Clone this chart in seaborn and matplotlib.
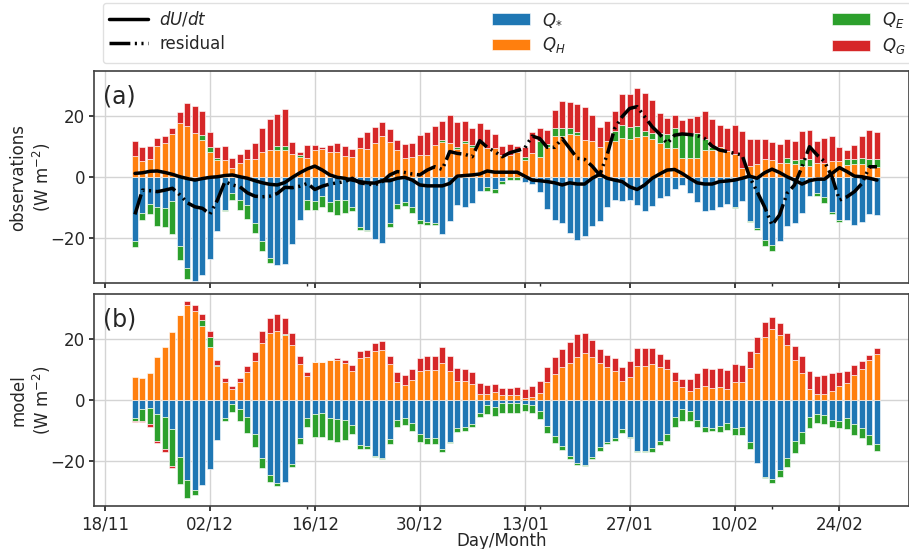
import numpy as np
import pandas as pd
import matplotlib
matplotlib.use("Agg")
import matplotlib.pyplot as plt
import matplotlib.dates as mdates
import seaborn as sns

# daily dates of the bars (22/11 .. 01/03)
dates = pd.date_range("2018-11-22", "2019-03-01", freq="D")

tick_dates = ["2018-11-18", "2018-12-02", "2018-12-16", "2018-12-30",
              "2019-01-13", "2019-01-27", "2019-02-10", "2019-02-24"]
tick_labels = ["18/11", "02/12", "16/12", "30/12", "13/01", "27/01", "10/02", "24/02"]
minor_dates = ["2018-12-15", "2019-01-15", "2019-02-15"]

# observations (W m-2)
obs_qstar = [
    -21.1, -11.8, -8.9, -9.9, -10.2, -8.0, -22.6, -30.0, -34.2, -32.4,
    -26.9, -17.7, -11.0, -5.4, -7.4, -9.2, -15.3, -21.1, -26.7, -28.9,
    -28.5, -22.0, -14.0, -7.4, -8.0, -6.3, -8.1, -7.6, -7.6, -9.8,
    -16.6, -17.3, -20.5, -21.6, -15.3, -8.9, -8.1, -9.8, -14.0, -14.9,
    -15.3, -18.8, -14.4, -9.2, -9.9, -8.7, -4.7, -3.4, -4.1, -1.3,
    -0.1, -0.1, -1.5, -2.3, -4.8, -10.4, -14.2, -15.3, -18.4, -20.8,
    -19.3, -16.2, -14.4, -10.0, -7.6, -7.9, -7.6, -9.2, -11.2, -9.6,
    -7.0, -6.3, -4.0, -2.6, -5.4, -8.1, -11.2, -10.9, -9.8, -8.9,
    -10.0, -7.8, -14.4, -16.9, -20.8, -22.4, -21.0, -16.2, -15.3, -11.8,
    -6.2, -5.4, -6.7, -11.5, -14.2, -14.0, -15.8, -14.7, -12.2, -12.6,
]
obs_qh = [
    6.9, 5.4, 6.0, 10.1, 11.2, 14.2, 17.7, 16.8, 14.6, 12.2,
    8.2, 5.7, 5.6, 3.1, 4.7, 5.9, 5.9, 8.2, 8.8, 8.9,
    8.9, 7.5, 6.5, 6.4, 8.9, 9.1, 8.1, 8.2, 7.1, 6.6,
    9.5, 9.3, 11.1, 13.5, 11.4, 8.9, 6.4, 6.7, 7.4, 7.4,
    10.4, 11.6, 11.3, 9.1, 11.1, 10.0, 11.9, 9.6, 9.7, 7.4,
    7.4, 8.4, 5.7, 7.8, 6.7, 9.8, 13.5, 13.5, 14.2, 13.8,
    12.1, 11.9, 9.8, 11.9, 11.9, 13.0, 12.5, 13.1, 13.5, 12.5,
    11.1, 9.5, 9.5, 6.2, 6.2, 6.2, 8.9, 8.9, 9.8, 8.7,
    7.6, 3.0, 3.6, 4.3, 5.8, 5.6, 4.5, 4.5, 4.3, 3.6,
    3.6, 4.5, 4.5, 5.3, 5.3, 4.0, 4.2, 4.2, 3.2, 3.2,
]
obs_qe = [
    -1.9, -2.4, -3.2, -6.2, -6.4, -10.8, -4.8, -3.6, 0.0, 1.5,
    1.8, 0.7, -0.3, -2.0, -3.3, -4.6, -3.0, -3.2, -1.5, 1.4,
    1.4, 0.0, 0.8, -3.4, -3.0, -3.7, -3.5, -4.9, -4.1, -1.3,
    -0.7, -0.5, 0.0, 0.0, -1.0, -1.5, -1.6, -2.0, -1.5, -0.9,
    -0.5, 0.5, 0.0, 0.7, 0.7, 0.5, 0.0, -1.1, -1.0, -1.0,
    -1.0, -0.9, 0.8, 0.0, 5.2, 1.0, 2.5, 2.5, 1.9, 1.1,
    0.0, 0.0, 0.0, 0.0, 3.3, 4.0, 4.1, 3.8, 1.6, 1.9,
    3.3, 4.7, 6.5, 8.2, 8.2, 8.2, 3.8, 0.9, 0.0, 0.0,
    -0.3, 0.0, -0.4, -0.5, -1.9, -2.0, 0.0, 1.9, 1.3, 2.2,
    2.2, -0.8, -2.0, -0.7, -0.7, 1.9, 1.9, 2.1, 2.9, 2.9,
]
obs_qg = [
    4.9, 4.5, 4.1, 2.7, 2.3, 1.9, 3.8, 7.5, 8.8, 8.0,
    4.9, 3.6, 4.6, 3.3, 2.9, 3.5, 5.3, 7.8, 10.2, 10.5,
    12.2, 4.0, 0.9, 4.0, 1.5, 0.9, 2.3, 2.9, 3.1, 2.7,
    3.7, 5.7, 5.3, 4.6, 4.3, 3.3, 4.5, 4.6, 6.3, 7.5,
    6.4, 6.3, 9.3, 8.2, 6.6, 5.6, 5.8, 6.2, 4.5, 2.9,
    3.4, 1.8, 3.5, 7.2, 4.4, 4.6, 6.0, 9.1, 8.6, 9.3,
    11.0, 8.4, 6.8, 6.7, 6.6, 10.3, 10.7, 12.5, 12.6, 11.0,
    6.6, 5.2, 4.5, 4.4, 5.2, 5.7, 9.0, 9.2, 7.4, 7.5,
    9.7, 12.3, 8.9, 8.2, 6.7, 5.8, 6.4, 6.3, 6.3, 9.5,
    9.7, 7.3, 8.4, 8.2, 4.5, 3.1, 4.5, 7.1, 9.3, 8.8,
]
obs_dudt = [
    1.2, 1.4, 1.9, 2.0, 1.5, 0.9, 0.1, -0.5, -1.0, -0.5,
    -0.1, 0.1, 0.5, 0.7, 0.1, -0.4, -1.2, -1.9, -2.4, -2.6,
    -1.8, -0.1, 1.4, 2.7, 3.6, 2.3, 0.7, -0.1, -0.4, -1.0,
    -1.5, -1.9, -2.0, -1.2, -1.2, -0.4, -0.1, -1.0, -2.6, -2.9,
    -2.9, -2.9, -2.1, 0.3, 0.5, 0.7, 1.0, 2.0, 1.6, 1.6,
    1.6, 1.6, 0.3, -1.0, -1.2, -1.5, -1.9, -2.6, -1.9, -2.3,
    -2.3, -0.4, 0.9, -0.4, -1.0, -1.5, -3.2, -4.1, -2.6, -0.4,
    1.0, 2.3, 2.5, 1.2, -0.4, -1.9, -2.3, -2.3, -1.5, -1.3,
    -1.0, -0.4, 0.3, -0.4, 1.4, 2.6, 1.5, 0.1, -1.0, -2.3,
    -1.2, -0.7, -0.7, 1.2, 3.1, 1.8, 0.3, 0.1, -0.4, -1.0,
]
obs_resid = [
    -12.3, -4.3, -4.5, -4.8, -4.3, -3.7, -5.9, -8.5, -9.8, -10.3,
    -12.2, -7.6, -1.5, -2.6, -3.2, -5.2, -6.3, -6.5, -6.3, -5.4,
    -3.4, -3.5, -3.0, -2.1, -4.1, -3.0, -2.3, -1.9, -1.5, -0.4,
    -1.9, -2.3, -2.6, -1.5, 0.7, 1.8, 1.5, 1.0, 0.7, 2.3,
    3.4, 2.5, 8.4, 7.8, 7.5, 6.7, 12.0, 9.8, 8.4, 6.7,
    8.0, 8.7, 9.5, 13.5, 12.7, 9.8, 9.8, 12.7, 9.5, 6.2,
    5.8, 3.6, 0.7, 7.3, 16.0, 19.9, 22.6, 23.2, 19.9, 16.6,
    14.2, 11.1, 13.8, 14.2, 14.0, 13.7, 12.7, 10.2, 8.9, 8.4,
    7.8, 7.3, 0.1, -4.8, -9.8, -15.8, -12.5, -5.4, -2.6, 3.4,
    10.0, 7.3, 5.1, 0.1, -7.6, -6.5, -4.8, -2.1, 3.4, 3.4,
]

# model (W m-2)
mod_qstar = [
    -5.8, -3.0, -2.5, -4.5, -5.5, -9.7, -18.9, -26.4, -29.7, -28.0,
    -22.6, -13.2, -5.8, -1.4, -3.1, -5.7, -11.2, -19.2, -24.7, -27.3,
    -26.9, -21.1, -12.4, -5.8, -4.6, -4.4, -6.0, -6.4, -6.6, -8.2,
    -14.8, -15.2, -18.5, -19.0, -13.0, -6.6, -5.8, -7.5, -11.2, -12.4,
    -12.6, -16.3, -13.7, -9.3, -9.0, -7.9, -4.4, -1.6, -2.4, -1.1,
    -0.9, -1.1, -1.4, -1.6, -3.6, -8.6, -11.9, -15.2, -18.5, -20.9,
    -21.4, -18.7, -15.4, -13.7, -12.6, -9.7, -12.1, -16.8, -16.8, -15.9,
    -13.4, -11.3, -5.7, -3.1, -3.8, -6.6, -8.8, -9.3, -8.5, -7.5,
    -9.3, -9.0, -13.9, -20.9, -25.3, -26.2, -23.1, -19.0, -13.5, -10.7,
    -5.7, -4.6, -4.9, -6.6, -7.0, -5.8, -7.9, -9.1, -11.6, -14.5,
]
mod_qh = [
    7.4, 7.1, 8.9, 14.3, 17.3, 22.4, 28.0, 31.4, 29.3, 24.2,
    17.6, 11.2, 6.0, 3.7, 5.9, 9.2, 12.9, 18.9, 22.2, 22.6,
    21.3, 18.0, 11.9, 7.9, 12.4, 12.4, 13.0, 13.0, 12.3, 9.6,
    13.8, 14.0, 16.2, 16.5, 11.9, 6.0, 4.9, 6.6, 9.6, 9.9,
    9.9, 12.1, 9.6, 6.4, 6.4, 5.1, 2.0, 1.9, 2.5, 1.6,
    1.6, 1.6, 0.8, 1.1, 2.2, 6.0, 8.5, 10.7, 12.3, 14.3,
    15.4, 14.0, 12.3, 10.7, 9.6, 6.4, 7.5, 11.2, 11.2, 11.9,
    10.8, 10.1, 6.3, 4.2, 3.1, 4.1, 4.6, 4.0, 4.3, 3.7,
    5.9, 5.9, 10.5, 15.4, 20.7, 23.3, 21.4, 18.0, 13.3, 9.0,
    3.6, 2.0, 1.9, 3.1, 4.6, 5.7, 8.1, 10.1, 13.1, 15.2,
]
mod_qe = [
    -1.0, -4.0, -5.4, -8.9, -10.8, -12.1, -8.9, -5.8, -1.5, 2.2,
    3.3, 0.3, -1.1, -2.7, -4.0, -5.3, -4.2, -3.3, -2.3, -0.9,
    0.3, -0.9, -2.1, -3.2, -7.5, -7.7, -7.1, -7.3, -6.6, -3.1,
    -1.4, -1.1, -0.4, -0.3, -1.5, -2.4, -2.4, -2.7, -2.5, -2.1,
    -1.9, -0.9, -0.5, -1.1, -1.1, -1.1, -1.1, -3.0, -2.9, -3.1,
    -3.3, -3.1, -2.1, -2.7, -2.6, -2.2, -2.2, -1.3, -0.8, -0.5,
    -0.5, -0.9, -1.3, -0.9, -0.9, -1.1, -0.3, -0.2, -0.2, -1.1,
    -1.6, -2.2, -3.3, -3.7, -3.0, -2.2, -1.6, -0.8, -2.0, -2.4,
    -2.4, -2.5, -2.2, 0.0, -0.3, -1.1, -2.2, -3.0, -4.1, -3.8,
    -3.4, -3.1, -3.0, -2.2, -2.2, -3.7, -3.7, -3.5, -3.2, -2.3,
]
mod_qg = [
    -0.5, -0.2, -0.9, -0.8, -0.9, -0.5, 0.0, 1.2, 2.0, 1.9,
    1.9, 1.8, 1.1, 0.8, 1.4, 2.0, 2.9, 3.8, 4.9, 5.7,
    5.3, 4.1, 2.6, 1.3, 0.1, 0.1, 0.2, 0.9, 0.9, 2.0,
    2.4, 2.3, 2.7, 3.0, 2.7, 3.1, 3.3, 3.7, 4.3, 4.7,
    4.7, 5.2, 4.9, 4.2, 3.8, 4.0, 3.5, 2.9, 2.7, 2.5,
    2.5, 2.6, 2.7, 3.4, 4.2, 4.9, 5.8, 6.0, 6.9, 7.5,
    6.8, 5.6, 4.5, 4.2, 4.2, 4.6, 5.4, 5.8, 5.8, 5.2,
    4.3, 3.4, 3.0, 2.7, 3.7, 4.9, 5.8, 6.3, 6.2, 6.2,
    5.8, 5.5, 5.5, 5.5, 4.9, 4.0, 4.1, 4.0, 4.5, 5.5,
    5.9, 5.9, 6.3, 5.7, 4.6, 4.0, 3.5, 2.6, 1.8, 1.9,
]

flux_labels = ["$Q_{*}$", "$Q_H$", "$Q_E$", "$Q_G$"]


def stacked_bars(ax, comps, colors):
    # positive parts stack upward, negative parts downward
    pos = np.zeros(len(dates))
    neg = np.zeros(len(dates))
    handles = []
    for vals, color, label in zip(comps, colors, flux_labels):
        v = np.asarray(vals, dtype=float)
        bottom = np.where(v >= 0, pos, neg)
        h = ax.bar(dates, v, bottom=bottom, width=0.8, color=color,
                   edgecolor=(1, 1, 1, 0.6), linewidth=0.7, label=label)
        handles.append(h)
        pos = pos + np.clip(v, 0, None)
        neg = neg + np.clip(v, None, 0)
    return handles


sns.set_theme(style="whitegrid", rc={
    "axes.edgecolor": "0.25",
    "axes.linewidth": 1.2,
    "grid.color": "0.83",
    "xtick.bottom": True,
    "ytick.left": True,
    "xtick.major.size": 3.5,
    "ytick.major.size": 3.5,
    "xtick.minor.size": 2,
    "xtick.major.pad": 3,
    "ytick.major.pad": 3,
    "xtick.color": "0.15",
    "ytick.color": "0.15",
})
plt.rcParams["font.family"] = ["DejaVu Sans"]
plt.rcParams["mathtext.fontset"] = "dejavusans"

colors = sns.color_palette("tab10")[:4]

fig = plt.figure(figsize=(9.09, 5.49), dpi=100)
ax_a = fig.add_axes([0.1037, 0.484, 0.8965, 0.387])
ax_b = fig.add_axes([0.1037, 0.078, 0.8965, 0.387])

bar_handles = stacked_bars(ax_a, [obs_qstar, obs_qh, obs_qe, obs_qg], colors)
stacked_bars(ax_b, [mod_qstar, mod_qh, mod_qe, mod_qg], colors)

sns.lineplot(x=dates, y=obs_dudt, ax=ax_a, color="black", lw=2.5, zorder=3,
             legend=False)
sns.lineplot(x=dates, y=obs_resid, ax=ax_a, color="black", lw=2.5, zorder=3,
             linestyle=(0, (6, 1.3, 0.6, 1.3, 0.6, 1.3)), legend=False)
line_handles = ax_a.get_lines()[:2]
if ax_a.get_legend() is not None:
    ax_a.get_legend().remove()

origin = mdates.date2num(pd.Timestamp(tick_dates[0]))
for ax, tag, ylab in [(ax_a, "(a)", "observations\n(W m$^{-2}$)"),
                      (ax_b, "(b)", "model\n(W m$^{-2}$)")]:
    ax.set_xlim(origin - 1.43, origin + 107.3)
    ax.set_ylim(-35, 35)
    ax.set_yticks([-20, 0, 20])
    ax.set_xticks(mdates.date2num(pd.to_datetime(tick_dates)))
    ax.set_xticks(mdates.date2num(pd.to_datetime(minor_dates)), minor=True)
    ax.tick_params(axis="both", which="major", labelsize=12)
    ax.grid(True, which="major", lw=1.0)
    ax.set_ylabel(ylab, fontsize=12, labelpad=-2)
    ax.text(0.011, 0.88, tag, transform=ax.transAxes, fontsize=17,
            va="center", ha="left")
    for sp in ax.spines.values():
        sp.set_visible(True)

ax_a.tick_params(labelbottom=False)
ax_b.set_xticklabels(tick_labels)
ax_b.set_xlabel("Day/Month", fontsize=12, labelpad=-1)

handles = list(line_handles) + bar_handles
labels = ["$dU/dt$", "residual"] + flux_labels
fig.legend(handles, labels, ncol=3, mode="expand", loc="center",
           bbox_to_anchor=(0.113, 0.889, 0.89, 0.102), borderaxespad=0,
           fontsize=12, handlelength=2.3, handletextpad=0.7,
           labelspacing=0.4, frameon=True, edgecolor="0.85", fancybox=True)

fig.savefig("out.png", dpi=100)
